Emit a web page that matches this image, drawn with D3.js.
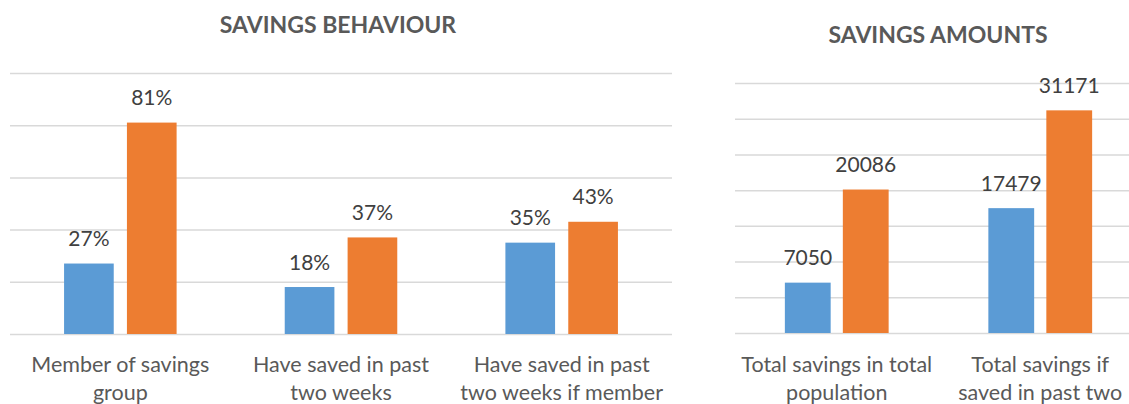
<!DOCTYPE html>
<html>
<head>
<meta charset="utf-8">
<script src="https://cdn.jsdelivr.net/npm/d3@7/dist/d3.min.js"></script>
<style>
  html, body { margin: 0; padding: 0; background: #ffffff; }
  svg { display: block; }
  text { font-family: Lato, "Open Sans", sans-serif; }
</style>
</head>
<body>
<svg id="chart" width="1129" height="404"></svg>
<script>
// ---- data ----
const behaviourCategories = [
  ["Member of savings", "group"],
  ["Have saved in past", "two weeks"],
  ["Have saved in past", "two weeks if member"]
];
const behaviourFirst = [0.27, 0.18, 0.35];
const behaviourSecond = [0.81, 0.37, 0.43];
const behaviourTicks = [0, 0.2, 0.4, 0.6, 0.8, 1.0];

const amountCategories = [
  ["Total savings in total", "population"],
  ["Total savings if", "saved in past two", "weeks"]
];
const amountFirst = [7050, 17479];
const amountSecond = [20086, 31171];
const amountTicks = [0, 5000, 10000, 15000, 20000, 25000, 30000, 35000];

const seriesColors = ["#5B9BD5", "#ED7D31"];

const svg = d3.select("#chart");

function drawPanel(opts) {
  const { title, titleX, titleY, left, right, top, bottom,
          categories, first, second, ticks, fmt } = opts;
  const g = svg.append("g");

  g.append("text")
    .attr("x", titleX).attr("y", titleY)
    .attr("text-anchor", "middle")
    .attr("font-size", 23).attr("font-weight", 700)
    .attr("fill", "#595959")
    .text(title);

  const y = d3.scaleLinear()
    .domain([0, ticks[ticks.length - 1]])
    .range([bottom, top]);

  const x = d3.scaleBand()
    .domain(d3.range(categories.length))
    .range([left, right])
    .paddingInner(0).paddingOuter(0);

  const xs = d3.scaleBand()
    .domain([0, 1])
    .range([0, x.bandwidth()])
    .paddingInner(0.21).paddingOuter(0.86);

  // horizontal gridlines
  const grid = g.append("g")
    .attr("transform", `translate(${left},0)`)
    .call(d3.axisLeft(y).tickValues(ticks).tickSize(-(right - left)).tickFormat(""));
  grid.select(".domain").remove();
  grid.selectAll(".tick line").attr("stroke", "#D9D9D9").attr("stroke-width", 1.5);

  const rows = categories.map((c, i) => ({ i, vals: [first[i], second[i]] }));

  const groups = g.selectAll("g.cat").data(rows).join("g")
    .attr("class", "cat")
    .attr("transform", d => `translate(${x(d.i)},0)`);

  groups.selectAll("rect")
    .data(d => d.vals.map((v, k) => ({ v, k })))
    .join("rect")
    .attr("x", d => xs(d.k))
    .attr("width", xs.bandwidth())
    .attr("y", d => y(d.v))
    .attr("height", d => y(0) - y(d.v))
    .attr("fill", d => seriesColors[d.k]);

  groups.selectAll("text.val")
    .data(d => d.vals.map((v, k) => ({ v, k })))
    .join("text")
    .attr("class", "val")
    .attr("x", d => xs(d.k) + xs.bandwidth() / 2)
    .attr("y", d => y(d.v) - 17.5)
    .attr("text-anchor", "middle")
    .attr("font-size", 21)
    .attr("fill", "#404040")
    .text(d => fmt(d.v));

  // wrapped category labels
  const labels = g.selectAll("text.cat").data(categories).join("text")
    .attr("class", "cat")
    .attr("text-anchor", "middle")
    .attr("font-size", 21.5)
    .attr("fill", "#595959");
  labels.selectAll("tspan").data((d, i) => d.map(line => ({ line, i }))).join("tspan")
    .attr("x", d => x(d.i) + x.bandwidth() / 2)
    .attr("y", (d, j) => 372 + j * 28)
    .text(d => d.line);
}

drawPanel({
  title: "SAVINGS BEHAVIOUR", titleX: 338, titleY: 33,
  left: 10, right: 672, top: 73, bottom: 334,
  categories: behaviourCategories, first: behaviourFirst, second: behaviourSecond,
  ticks: behaviourTicks, fmt: d3.format(".0%")
});

drawPanel({
  title: "SAVINGS AMOUNTS", titleX: 938, titleY: 43,
  left: 735, right: 1142, top: 83, bottom: 333,
  categories: amountCategories, first: amountFirst, second: amountSecond,
  ticks: amountTicks, fmt: d3.format("d")
});
</script>
</body>
</html>
